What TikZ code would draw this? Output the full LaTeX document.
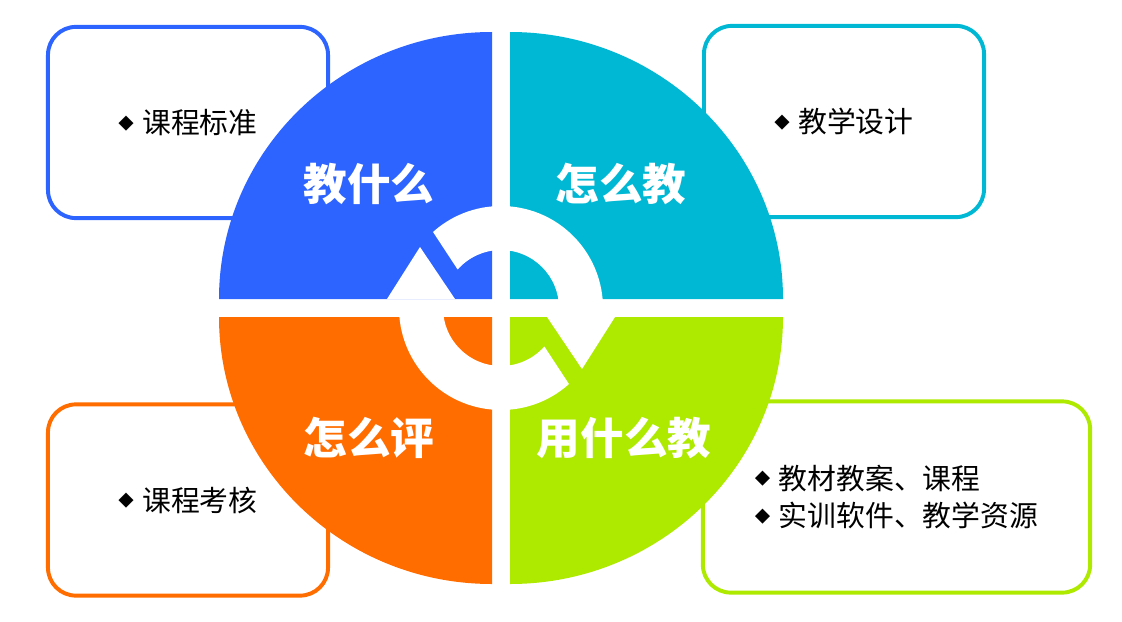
\documentclass[tikz,border=0pt]{standalone}
\usepackage{fontspec}
\usepackage{tikz}
\usepackage{xcolor}
\newfontfamily\cjk{Noto Sans CJK SC}
\definecolor{qblue}{HTML}{2D64FF}
\definecolor{qcyan}{HTML}{00B8D4}
\definecolor{qorange}{HTML}{FF6D00}
\definecolor{qlime}{HTML}{AEEA00}
\newcommand{\dia}{\raisebox{3pt}{\fontsize{11}{11}\selectfont ◆}\hspace{6pt}}

\begin{document}
\begin{tikzpicture}[x=0.025cm, y=0.025cm,
    box/.style={line width=2.8pt, rounded corners=0.7cm, fill=white, text=black, minimum width=7cm, minimum height=4.78cm, align=left, font=\cjk\fontsize{20.5}{27}\selectfont},
    big/.style={text=white, font=\cjk\bfseries\fontsize{31}{31}\selectfont}]
    \useasboundingbox (0,0) rectangle (1122,621);
    \coordinate (c) at (501,313);

    % 四个方框
    \node[box, draw=qblue] (what) at (188,498.5) {\dia 课程标准};
    \node[box, draw=qcyan] (how) at (844,499.5) {\dia 教学设计};
    \node[box, draw=qorange] (eval) at (188,121) {\dia 课程考核};
    \node[box, draw=qlime, minimum width=9.68cm] (res) at (896.5,124) {\dia 教材教案、课程\\\dia 实训软件、教学资源};

    % 四个扇形
    \fill[qblue] (492,322) -- (492,589) arc[start angle=90, end angle=180, x radius=273, y radius=267] -- cycle;
    \fill[qcyan] (510,322) -- (510,589) arc[start angle=90, end angle=0, x radius=273, y radius=267] -- cycle;
    \fill[qorange] (492,304) -- (492,37) arc[start angle=270, end angle=180, x radius=273, y radius=267] -- cycle;
    \fill[qlime] (510,304) -- (510,37) arc[start angle=270, end angle=360, x radius=273, y radius=267] -- cycle;

    % 中间:环形箭头
    \fill[white, shift={(c)}] (131.8:102) arc[start angle=131.8, end angle=0, radius=102] -- (0:58) arc[start angle=0, end angle=138.4, radius=58] -- cycle;
    \fill[white, shift={(c)}] (46,-9) -- (114,-9) -- (81,-61) -- cycle;
    \fill[white, shift={(c)}] (311.8:102) arc[start angle=311.8, end angle=180, radius=102] -- (180:58) arc[start angle=180, end angle=318.4, radius=58] -- cycle;
    \fill[white, shift={(c)}] (-46,9) -- (-114,9) -- (-81,61) -- cycle;

    % 标题
    \node[big] (qwhat) at (369,437) {教什么};
    \node[big] (qhow) at (621,437) {怎么教};
    \node[big] (qeval) at (369,183) {怎么评};
    \node[big] (qres) at (624,183) {用什么教};
\end{tikzpicture}
\end{document}
